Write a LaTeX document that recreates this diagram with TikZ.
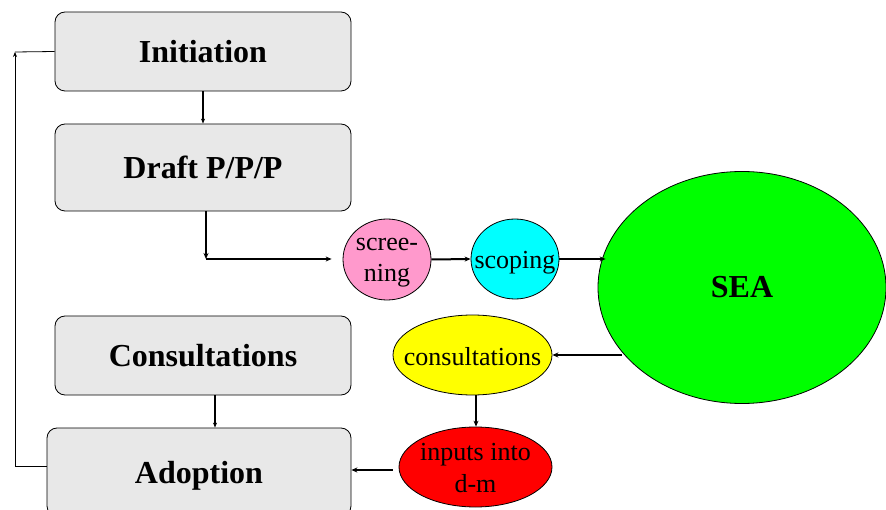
\documentclass[tikz,border=0pt]{standalone}
\usepackage{fontspec}
\setmainfont{Liberation Serif}
\usetikzlibrary{shapes.geometric,arrows.meta}
\definecolor{boxgrey}{HTML}{E8E8E8}
\definecolor{pinkc}{HTML}{FF99CC}
\definecolor{cyanc}{HTML}{00FFFF}
\definecolor{greenc}{HTML}{00FF00}
\definecolor{yellowc}{HTML}{FFFF00}
\definecolor{redc}{HTML}{FF0000}
\tikzset{
  stagebox/.style={draw=black, line width=0.8pt, fill=boxgrey, rounded corners=10pt,
    inner sep=0pt, font=\fontsize{32}{36}\selectfont\bfseries},
  bubble/.style={ellipse, draw=black, line width=0.8pt, inner sep=0pt},
  btext/.style={font=\fontsize{26}{29}\selectfont, align=center, inner sep=0pt},
  arr/.style={line width=2pt, -{Stealth[length=6pt,width=5pt]}},
  thinarr/.style={line width=1.4pt, -{Stealth[length=5pt,width=4pt]}},
  fbline/.style={line width=0.8pt},
}
\begin{document}
\begin{tikzpicture}[x=1pt,y=-1pt]
\useasboundingbox (0,0) rectangle (886,510);
% left column boxes
\node[stagebox, minimum width=296pt, minimum height=79pt] (init) at (203,51.5) {Initiation};
\node[stagebox, minimum width=296pt, minimum height=87pt] (draft) at (203,167.5) {Draft P/P/P};
\node[stagebox, minimum width=296pt, minimum height=79pt] (consbox) at (203,355.5) {Consultations};
\node[stagebox, minimum width=304pt, minimum height=88pt, text depth=-8pt] (adopt) at (199,472) {Adoption};
% bubbles
\node[bubble, fill=pinkc, minimum width=88pt, minimum height=81pt,
      label={[btext, font=\fontsize{26}{31}\selectfont, yshift=-3pt]center:scree-\\ning}] (screen) at (387,259.5) {};
\node[bubble, fill=cyanc, minimum width=88pt, minimum height=80pt,
      label={[btext, yshift=-4pt]center:scoping}] (scope) at (515,259) {};
\node[bubble, fill=greenc, minimum width=288pt, minimum height=232pt,
      label={[inner sep=0pt, font=\fontsize{32}{36}\selectfont\bfseries]center:SEA}] (sea) at (742,287.5) {};
\node[bubble, fill=yellowc, minimum width=159pt, minimum height=80pt,
      label={[btext, yshift=-2pt]center:consultations}] (cons) at (472.5,355) {};
\node[bubble, fill=redc, minimum width=153pt, minimum height=80pt,
      label={[btext, font=\fontsize{26}{32}\selectfont, yshift=-1pt]center:inputs into\\d-m}] (inputs) at (475.5,467) {};
% connectors
\draw[thinarr] (init.south) -- (draft.north);
\coordinate (dcorner) at (206,259);
\draw[arr] (draft.south -| dcorner) -- (dcorner);
\draw[arr, shorten >=11pt] (dcorner) -- (dcorner -| screen.west);
\draw[arr] (screen.east) -- (scope.west);
\draw[arr, shorten >=-8pt] (scope.east) -- (scope.east -| sea.west);
\draw[arr] ([xshift=24pt]sea.west |- cons.east) -- (cons.east);
\draw[arr] (cons.south -| 476,0) -- (inputs.north -| 476,0);
\draw[arr, shorten <=6pt] (inputs.west |- 0,470) -- (adopt.east |- 0,470);
\draw[thinarr] (consbox.south -| 215,0) -- (adopt.north -| 215,0);
\coordinate (fb) at (15,52);
\draw[fbline, -{Stealth[length=5pt,width=4pt]}] ([yshift=6pt]adopt.west) -| (fb);
\draw[fbline] (fb) -- (init.west);
\end{tikzpicture}
\end{document}
